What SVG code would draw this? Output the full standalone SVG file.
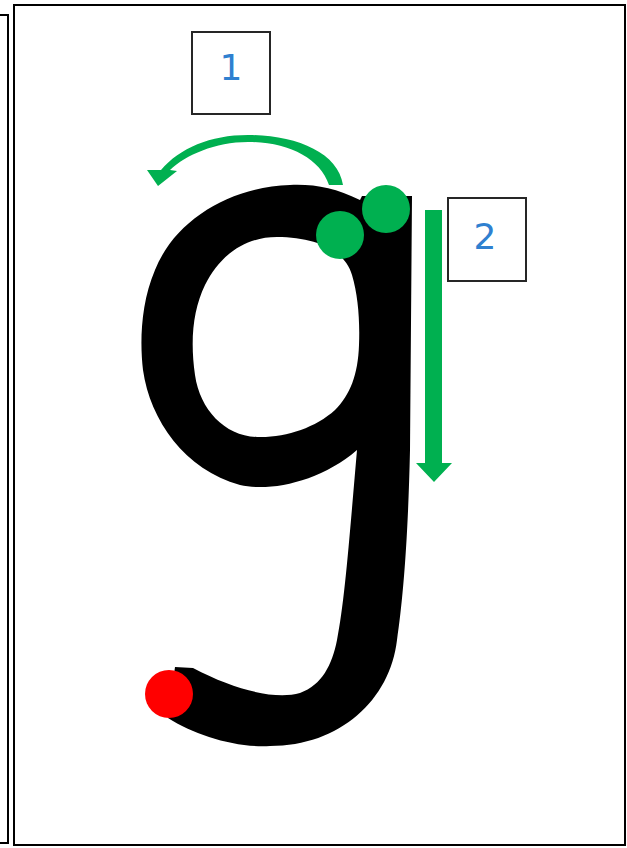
<svg xmlns="http://www.w3.org/2000/svg" width="627" height="848" viewBox="0 0 627 848">
<style>
.frame{fill:none;stroke:#000;stroke-width:2}
.box{fill:#fff;stroke:#262626;stroke-width:2}
.num{font-family:"DejaVu Sans",Verdana,sans-serif;font-size:36px;fill:#2F80D0;text-anchor:middle}
.green{fill:#00B050}
</style>
<rect width="627" height="848" fill="#fff"/>
<path class="frame" d="M0,15 H8 V843 H0"/>
<rect class="frame" x="14" y="5" width="611" height="840"/>
<g id="letter-g">
<path fill="#000" fill-rule="evenodd" d="M360,200 C335,188 315,184 290,185 C230,187 175,220 155,270 C140,305 140,345 143,370 C150,420 185,470 240,485 C270,492 320,482 357,450 C350,530 345,600 337,640 C332,665 322,685 300,693 C275,700 235,690 193,668 L175,667 L168,718 C195,735 235,748 270,746 C340,746 390,700 397,640 C403,600 408,540 410,450 L412,196 L362,196 Z M277,237 C315,237 345,250 352,275 C358,295 360,320 359,345 C358,375 350,395 335,410 C315,428 285,438 257,437 C225,436 200,410 195,375 C190,340 193,310 205,285 C220,255 245,237 277,237 Z"/>
</g>
<g id="arrows">
<path class="green" d="M343,185 C338,152 295,135 248,135 C210,135 180,148 161,170 L147,170 L158,186 L177,171 L170,170 C186,155 215,142 248,142 C288,142 320,158 329,185 Z"/>
<path class="green" d="M425,210 H442 V463 H452 L434,482 L416,463 H425 Z"/>
</g>
<g id="dots">
<circle class="green" cx="340" cy="235" r="24"/>
<circle class="green" cx="386" cy="209" r="24"/>
<circle fill="#FF0000" cx="169" cy="694" r="24"/>
</g>
<g id="label-1">
<rect class="box" x="192" y="32" width="78" height="82"/>
<text class="num" x="231" y="80">1</text>
</g>
<g id="label-2">
<rect class="box" x="448" y="198" width="78" height="83"/>
<text class="num" x="485" y="249">2</text>
</g>
</svg>
